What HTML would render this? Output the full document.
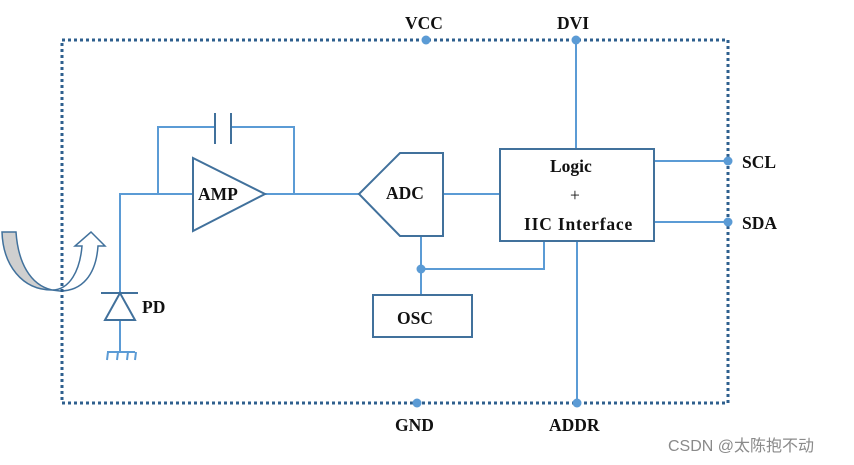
<!DOCTYPE html>
<html><head><style>body{margin:0;background:#fff}svg{display:block}text{font-family:"Liberation Serif",serif;font-weight:bold;fill:#111}</style></head><body>
<svg width="854" height="465" viewBox="0 0 854 465">
<g fill="none" stroke="#5b9bd5" stroke-width="2">
<line x1="576" y1="40" x2="576" y2="149"/>
<line x1="577" y1="241" x2="577" y2="403"/>
<line x1="654" y1="161" x2="728" y2="161"/>
<line x1="654" y1="222" x2="728" y2="222"/>
<line x1="443" y1="194" x2="500" y2="194"/>
<line x1="265" y1="194" x2="359" y2="194"/>
<polyline points="421,236 421,295"/>
<polyline points="421,269 544,269 544,241"/>
<polyline points="158,194 158,127 215,127"/>
<polyline points="231,127 294,127 294,194"/>
<polyline points="193,194 120,194 120,293"/>
<line x1="120" y1="320" x2="120" y2="352"/>
</g>
<g fill="#fff" stroke="#41719c" stroke-width="2">
<rect x="500" y="149" width="154" height="92"/>
<polygon points="359,194 400,153 443,153 443,236 400,236"/>
<rect x="373" y="295" width="99" height="42"/>
<polygon points="193,158 265,194 193,231"/>
<line x1="215" y1="113" x2="215" y2="144"/>
<line x1="231" y1="113" x2="231" y2="144"/>
<line x1="101" y1="293" x2="138" y2="293"/>
<polygon points="120,293 105,320 135,320"/>
<polyline points="107,352 135,352" stroke="#5b9bd5"/>
<path d="M108,352 l-1,8 M118,352 l-1,8 M128,352 l-1,8 M136,352 l-1,8" stroke="#5b9bd5"/>
</g>
<path d="M2,232 L16,232 C18,262 30,285 52,290 C22,290 3,265 2,232Z" fill="#cfcfcf" stroke="#41719c" stroke-width="1.5"/>
<path d="M52,290 C70,290 80,270 82,246 L75,246 L91,232 L105,246 L98,246 C96,275 82,291 60,291 Z" fill="#fff" stroke="#41719c" stroke-width="1.5"/>
<rect x="62" y="40" width="666" height="363" fill="none" stroke="#2e5f8e" stroke-width="3" stroke-dasharray="3,3"/>
<g fill="#5b9bd5">
<circle cx="426" cy="40" r="4.5"/><circle cx="576" cy="40" r="4.5"/>
<circle cx="417" cy="403" r="4.5"/><circle cx="577" cy="403" r="4.5"/>
<circle cx="728" cy="161" r="4.5"/><circle cx="728" cy="222" r="4.5"/>
<circle cx="421" cy="269" r="4.5"/>
</g>
<g font-size="17.5">
<text x="405" y="29">VCC</text>
<text x="557" y="29">DVI</text>
<text x="395" y="431">GND</text>
<text x="549" y="431">ADDR</text>
<text x="742" y="168">SCL</text>
<text x="742" y="229">SDA</text>
<text x="550" y="172">Logic</text>
<text x="570" y="201" style="font-weight:normal">+</text>
<text x="524" y="230" letter-spacing="0.8">IIC Interface</text>
<text x="386" y="199">ADC</text>
<text x="397" y="324">OSC</text>
<text x="198" y="200">AMP</text>
<text x="142" y="313">PD</text>
</g>
<text x="668" y="451" style="font-family:'Liberation Sans','Noto Sans CJK SC',sans-serif;font-weight:normal;font-size:16px;fill:#8a8a8a">CSDN @太陈抱不动</text>
</svg>
</body></html>
